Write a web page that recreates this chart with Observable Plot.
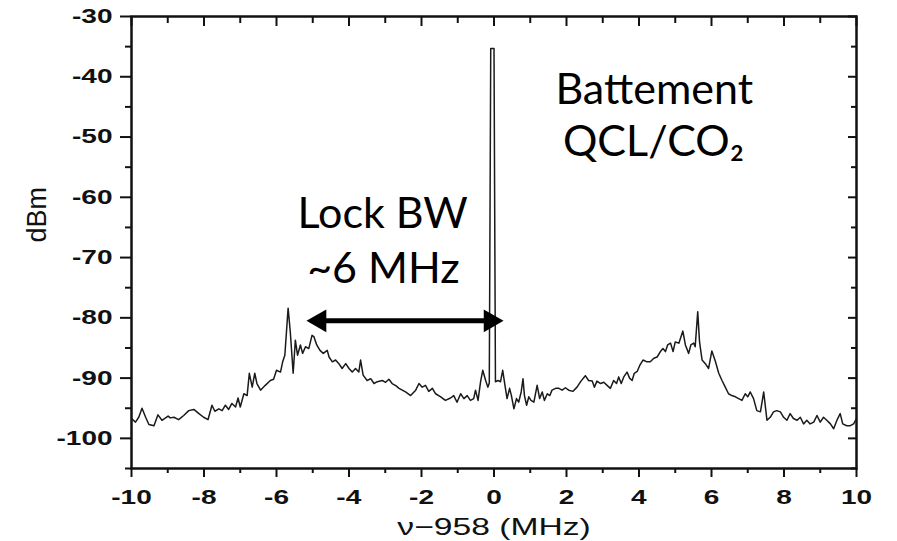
<!DOCTYPE html>
<html>
<head>
<meta charset="utf-8">
<script src="https://cdn.jsdelivr.net/npm/d3@7"></script>
<script src="https://cdn.jsdelivr.net/npm/@observablehq/plot@0.6"></script>
<style>
  html, body { margin: 0; padding: 0; background: #fff; }
  #chart svg { display: block; }
</style>
</head>
<body>
<div id="chart"></div>
<script>
// ---- data ----
const freq = [
  -10.0, -9.89, -9.80, -9.71, -9.61, -9.52, -9.38, -9.27, -9.16, -9.06, -8.99, -8.93, -8.83, -8.70, -8.56, -8.42,
  -8.28, -8.14, -8.01, -7.89, -7.78, -7.70, -7.59, -7.50, -7.41, -7.32, -7.23, -7.13, -7.06, -7.00, -6.90, -6.81,
  -6.75, -6.67, -6.60, -6.54, -6.44, -6.31, -6.17, -6.08, -6.00, -5.89, -5.83, -5.77, -5.68, -5.62, -5.54, -5.48,
  -5.42, -5.34, -5.28, -5.20, -5.11, -5.02, -4.97, -4.89, -4.80, -4.71, -4.60, -4.55, -4.46, -4.37, -4.28, -4.19,
  -4.09, -4.00, -3.91, -3.82, -3.73, -3.68, -3.61, -3.50, -3.40, -3.31, -3.22, -3.08, -2.99, -2.90, -2.81, -2.70,
  -2.62, -2.53, -2.44, -2.30, -2.16, -2.07, -1.98, -1.89, -1.80, -1.70, -1.61, -1.47, -1.34, -1.20, -1.11, -1.02,
  -0.92, -0.83, -0.74, -0.65, -0.56, -0.51, -0.44, -0.37, -0.31, -0.23, -0.17, -0.13, -0.09, 0.00, 0.04, 0.11,
  0.18, 0.24, 0.31, 0.36, 0.43, 0.48, 0.55, 0.62, 0.68, 0.75, 0.80, 0.84, 0.90, 0.96, 1.02, 1.10,
  1.19, 1.26, 1.33, 1.39, 1.47, 1.54, 1.60, 1.70, 1.79, 1.88, 1.97, 2.06, 2.18, 2.29, 2.40, 2.52,
  2.61, 2.71, 2.77, 2.84, 2.94, 3.03, 3.12, 3.21, 3.30, 3.38, 3.44, 3.51, 3.58, 3.67, 3.74, 3.81,
  3.87, 3.95, 4.02, 4.11, 4.22, 4.31, 4.41, 4.50, 4.59, 4.66, 4.73, 4.79, 4.87, 4.94, 5.00, 5.10,
  5.21, 5.28, 5.37, 5.43, 5.51, 5.55, 5.62, 5.67, 5.74, 5.83, 5.92, 6.01, 6.11, 6.20, 6.29, 6.38,
  6.47, 6.56, 6.66, 6.75, 6.84, 6.93, 7.00, 7.07, 7.16, 7.25, 7.35, 7.44, 7.53, 7.62, 7.71, 7.80,
  7.90, 7.99, 8.08, 8.17, 8.26, 8.36, 8.45, 8.54, 8.63, 8.72, 8.82, 8.91, 9.00, 9.09, 9.18, 9.28,
  9.37, 9.46, 9.55, 9.62, 9.73, 9.83, 9.92, 10.0
];
const power = [
  -96.7, -97.3, -96.5, -95.0, -96.5, -97.7, -97.9, -96.1, -97.0, -96.6, -96.3, -96.6, -96.5, -96.9, -96.2, -95.4,
  -95.2, -95.9, -96.5, -96.9, -94.5, -95.5, -95.1, -95.4, -94.5, -95.2, -94.2, -94.8, -93.3, -94.8, -92.6, -92.9,
  -89.2, -91.5, -89.2, -90.9, -92.0, -91.2, -90.4, -90.2, -88.7, -89.0, -87.3, -86.2, -78.4, -82.3, -89.2, -83.7,
  -86.2, -84.5, -85.9, -84.8, -85.1, -82.9, -83.1, -84.5, -85.4, -85.9, -85.4, -86.5, -87.3, -87.0, -87.6, -88.4,
  -87.6, -88.4, -89.0, -88.4, -89.0, -87.0, -89.5, -90.4, -90.1, -90.9, -90.6, -90.4, -90.7, -90.2, -90.9, -91.3,
  -91.7, -92.0, -92.3, -92.9, -92.0, -90.9, -91.5, -91.2, -92.2, -91.7, -92.6, -93.1, -93.7, -93.3, -92.9, -94.0,
  -92.6, -93.4, -92.9, -93.7, -93.4, -92.0, -93.7, -90.6, -88.7, -90.4, -91.5, -90.8, -35.3, -35.3, -90.6, -90.4,
  -90.6, -88.7, -91.5, -93.4, -91.7, -92.9, -95.1, -93.4, -94.0, -92.3, -90.1, -92.9, -94.5, -93.1, -93.7, -94.0,
  -91.2, -93.4, -92.3, -93.7, -92.6, -92.9, -92.0, -91.7, -91.7, -92.0, -91.6, -92.0, -92.2, -91.5, -90.5, -89.6,
  -90.4, -90.5, -91.5, -90.5, -90.9, -90.7, -91.2, -91.7, -90.4, -90.9, -89.8, -90.9, -89.8, -89.0, -90.0, -90.4,
  -89.2, -88.9, -87.9, -87.0, -87.3, -87.3, -86.7, -86.5, -85.6, -85.1, -85.6, -84.5, -84.2, -85.6, -84.0, -84.2,
  -82.2, -84.5, -85.9, -84.5, -84.2, -84.8, -79.0, -84.0, -87.0, -87.6, -88.4, -85.5, -87.3, -89.2, -90.4, -91.5,
  -92.6, -92.9, -93.1, -93.4, -93.7, -92.6, -93.1, -92.3, -93.4, -95.4, -95.6, -92.3, -97.0, -96.5, -95.6, -95.4,
  -95.6, -96.5, -97.0, -95.9, -96.7, -97.0, -96.5, -97.6, -97.0, -97.6, -97.3, -96.2, -97.3, -96.5, -97.0, -97.6,
  -98.4, -97.0, -95.9, -97.6, -97.9, -97.9, -97.6, -96.7
];

const xMajorTicks = [-10, -8, -6, -4, -2, 0, 2, 4, 6, 8, 10];
const xMinorTicks = [-9, -7, -5, -3, -1, 1, 3, 5, 7, 9];
const yMajorTicks = [-100, -90, -80, -70, -60, -50, -40, -30];
const yMinorTicks = [-105, -95, -85, -75, -65, -55, -45, -35];

const xLabel = "ν−958 (MHz)";
const yLabel = "dBm";

// Lock bandwidth arrow (MHz, dBm)
const arrowFrom = -5.14;
const arrowTo = 0.23;
const arrowLevel = -80.5;

// annotation lines: x (MHz), baseline (dBm), text
const noteText = ["Lock BW", "~6 MHz", "Battement", "QCL/CO₂"];
const noteX = [-3.07, -3.05, 4.42, 4.40];
const noteY = [-65.05, -74.2, -44.45, -53.1];

// ---- build ----
const trace = freq.map((f, i) => ({f, p: power[i]}));
const notes = noteText.map((t, i) => ({t, x: noteX[i], y: noteY[i]}));

const tickFont = {fontSize: 20, fontWeight: "bold", fill: "#111"};

const chart = Plot.plot({
  width: 897,
  height: 541,
  marginLeft: 131,
  marginRight: 41,
  marginTop: 16,
  marginBottom: 73,
  style: {fontFamily: "'Liberation Sans', Arial, sans-serif", background: "#fff", color: "#111"},
  x: {domain: [-10, 10]},
  y: {domain: [-105, -30]},
  marks: [
    // bottom axis
    Plot.axisX({anchor: "bottom", ticks: xMajorTicks, tickSize: 9, tickPadding: 12, tickFormat: d => String(d), label: null, ...tickFont, strokeWidth: 2}),
    Plot.axisX({anchor: "bottom", ticks: xMinorTicks, tickSize: 5, tickFormat: () => "", label: null, strokeWidth: 2}),
    // top axis (inward)
    Plot.axisX({anchor: "top", ticks: xMajorTicks, tickSize: -9, tickFormat: () => "", label: null, strokeWidth: 2}),
    Plot.axisX({anchor: "top", ticks: xMinorTicks, tickSize: -6, tickFormat: () => "", label: null, strokeWidth: 2}),
    // left axis
    Plot.axisY({anchor: "left", ticks: yMajorTicks, tickSize: 11, tickPadding: 8, tickFormat: d => String(d), label: null, ...tickFont, strokeWidth: 2}),
    Plot.axisY({anchor: "left", ticks: yMinorTicks, tickSize: 6, tickFormat: () => "", label: null, strokeWidth: 2}),
    // right axis (inward)
    Plot.axisY({anchor: "right", ticks: yMajorTicks, tickSize: -9, tickFormat: () => "", label: null, strokeWidth: 2}),
    Plot.axisY({anchor: "right", ticks: yMinorTicks, tickSize: -6, tickFormat: () => "", label: null, strokeWidth: 2}),
    Plot.frame({stroke: "#111", strokeWidth: 2.5}),
    // spectrum
    Plot.line(trace, {x: "f", y: "p", stroke: "#1a1a1a", strokeWidth: 1.5, strokeLinejoin: "round"}),
    // arrow
    Plot.ruleY([arrowLevel], {x1: arrowFrom, x2: arrowTo, stroke: "#000", strokeWidth: 5, insetLeft: 10, insetRight: 10}),
    Plot.dot([arrowTo], {x: d => d, y: () => arrowLevel, symbol: "triangle", r: 8.5, fill: "#000", stroke: null, rotate: 90, dx: -12}),
    Plot.dot([arrowFrom], {x: d => d, y: () => arrowLevel, symbol: "triangle", r: 8.5, fill: "#000", stroke: null, rotate: -90, dx: 12}),
    // annotations
    Plot.text(notes, {x: "x", y: "y", text: "t", fontSize: 43, fontFamily: "Lato, 'Noto Sans', sans-serif", fill: "#000", textAnchor: "middle", lineAnchor: "bottom"}),
    // axis titles
    Plot.text([xLabel], {frameAnchor: "bottom", dy: 66, text: d => d, fontSize: 24, fill: "#111", lineAnchor: "bottom", className: "xtitle"}),
    Plot.text([yLabel], {frameAnchor: "left", dx: -94, text: d => d, fontSize: 27, fill: "#111", rotate: -90, lineAnchor: "middle"})
  ]
});

document.getElementById("chart").appendChild(chart);

// stretch the tick labels and x title horizontally like the reference,
// keeping each label anchored where Plot placed it
const stretch = 1.4;
d3.select(chart).selectAll('g[aria-label="x-axis tick label"] text, g[aria-label="y-axis tick label"] text, g.xtitle text').each(function () {
  const before = this.getBBox();
  const anchor = getComputedStyle(this).textAnchor || this.getAttribute("text-anchor") || "start";
  const ref = anchor === "end" ? before.x + before.width : anchor === "middle" ? before.x + before.width / 2 : before.x;
  const w = this.getComputedTextLength();
  if (w > 0) {
    this.setAttribute("textLength", (w * stretch).toFixed(1));
    this.setAttribute("lengthAdjust", "spacingAndGlyphs");
    const after = this.getBBox();
    const now = anchor === "end" ? after.x + after.width : anchor === "middle" ? after.x + after.width / 2 : after.x;
    const x0 = parseFloat(this.getAttribute("x") || "0");
    this.setAttribute("x", (x0 + ref - now).toFixed(1));
  }
});
</script>
</body>
</html>
